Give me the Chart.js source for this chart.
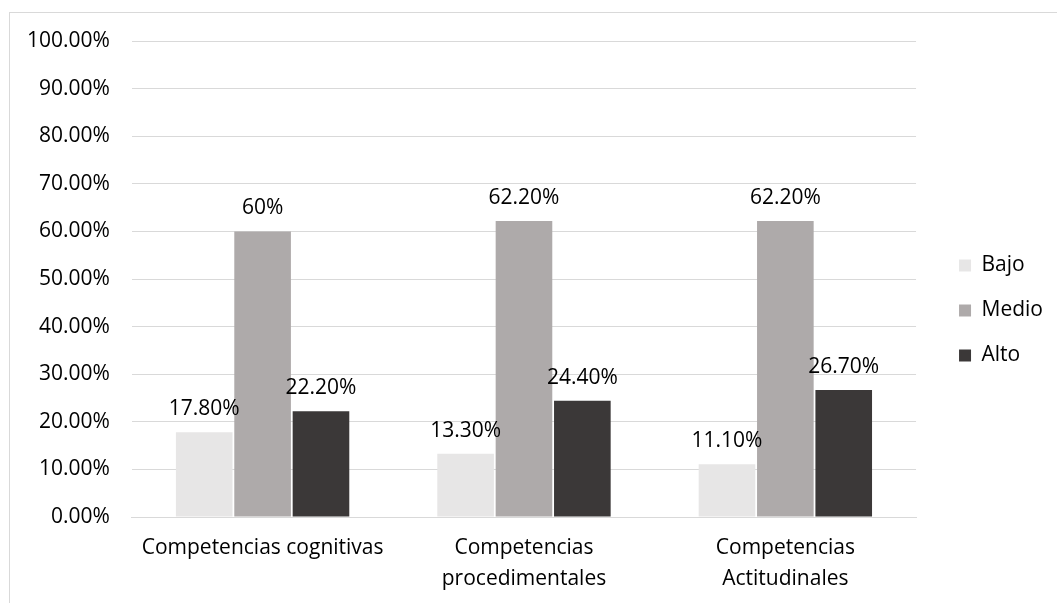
<!DOCTYPE html>
<html>
<head>
<meta charset="utf-8">
<script src="https://cdn.jsdelivr.net/npm/chart.js@4/dist/chart.umd.min.js"></script>
<style>
  html, body { margin: 0; padding: 0; background: #fff; overflow: hidden; }
  #wrap { position: relative; width: 1057px; height: 603px; }
  #frame { position: absolute; left: 9px; top: 12px; width: 1200px; height: 800px; border: 1px solid #d9d9d9; box-sizing: border-box; }
  canvas { position: absolute; left: 0; top: 0; }
</style>
</head>
<body>
<div id="wrap">
  <div id="frame"></div>
  <canvas id="chart" width="1057" height="603"></canvas>
</div>
<script>
// Categories (multi-line where the axis wraps them)
const categories = [
  'Competencias cognitivas',
  ['Competencias', 'procedimentales'],
  ['Competencias', 'Actitudinales']
];

// Series values, in percent
const bajo  = [17.8, 13.3, 11.1];
const medio = [60.0, 62.2, 62.2];
const alto  = [22.2, 24.4, 26.7];

// Value labels printed above each bar
const bajoLabels  = ['17.80%', '13.30%', '11.10%'];
const medioLabels = ['60%', '62.20%', '62.20%'];
const altoLabels  = ['22.20%', '24.40%', '26.70%'];

// Y axis tick labels, one per 10 %
const yTickLabels = ['0.00%', '10.00%', '20.00%', '30.00%', '40.00%', '50.00%',
                     '60.00%', '70.00%', '80.00%', '90.00%', '100.00%'];

const FONT = "'Open Sans', 'DejaVu Sans', sans-serif";
Chart.defaults.font.family = FONT;
Chart.defaults.font.size = 21;
Chart.defaults.color = '#000';

// Prints the value label above every bar
const barValueLabels = {
  id: 'barValueLabels',
  afterDatasetsDraw(chart) {
    const ctx = chart.ctx;
    ctx.save();
    ctx.font = '21px ' + FONT;
    ctx.fillStyle = '#000';
    ctx.textAlign = 'center';
    ctx.textBaseline = 'alphabetic';
    chart.data.datasets.forEach((ds, di) => {
      const meta = chart.getDatasetMeta(di);
      meta.data.forEach((bar, i) => {
        ctx.fillText(ds.valueLabels[i], bar.x, bar.y - 17);
      });
    });
    ctx.restore();
  }
};

// Moves the legend block a little further from the plot area
const legendOffset = {
  id: 'legendOffset',
  afterLayout(chart) {
    const lg = chart.legend;
    if (!lg) return;
    const dx = 19, dy = -5;
    lg.left += dx; lg.right += dx;
    lg.top += dy; lg.bottom += dy;
  }
};

new Chart(document.getElementById('chart'), {
  type: 'bar',
  data: {
    labels: categories,
    datasets: [
      { label: 'Bajo',  data: bajo,  valueLabels: bajoLabels,  backgroundColor: '#e7e6e6' },
      { label: 'Medio', data: medio, valueLabels: medioLabels, backgroundColor: '#aeaaaa' },
      { label: 'Alto',  data: alto,  valueLabels: altoLabels,  backgroundColor: '#3b3838' }
    ]
  },
  options: {
    responsive: false,
    animation: false,
    devicePixelRatio: 1,
    layout: { padding: { left: 5, top: 41, right: 23, bottom: 13 } },
    datasets: {
      bar: { categoryPercentage: 0.67, barPercentage: 0.97, borderWidth: 0 }
    },
    scales: {
      x: {
        grid: { display: false, drawTicks: false },
        border: { display: true, color: '#d9d9d9', width: 1 },
        ticks: { padding: 16, maxRotation: 0, autoSkip: false, color: '#000', font: { size: 21, lineHeight: 1.45 } },
        afterFit(scale) { scale.height = 73; }
      },
      y: {
        min: 0,
        max: 100,
        grid: { color: '#d9d9d9', lineWidth: 1, drawTicks: false },
        border: { display: false },
        ticks: {
          stepSize: 10,
          padding: 22,
          color: '#000',
          font: { size: 21 },
          callback: (v) => yTickLabels[Math.round(v / 10)]
        }
      }
    },
    plugins: {
      legend: {
        position: 'right',
        align: 'center',
        labels: {
          boxWidth: 12,
          boxHeight: 12,
          padding: 24,
          color: '#000',
          font: { size: 21 }
        }
      },
      tooltip: { enabled: false },
      title: { display: false }
    }
  },
  plugins: [barValueLabels, legendOffset]
});
</script>
</body>
</html>
